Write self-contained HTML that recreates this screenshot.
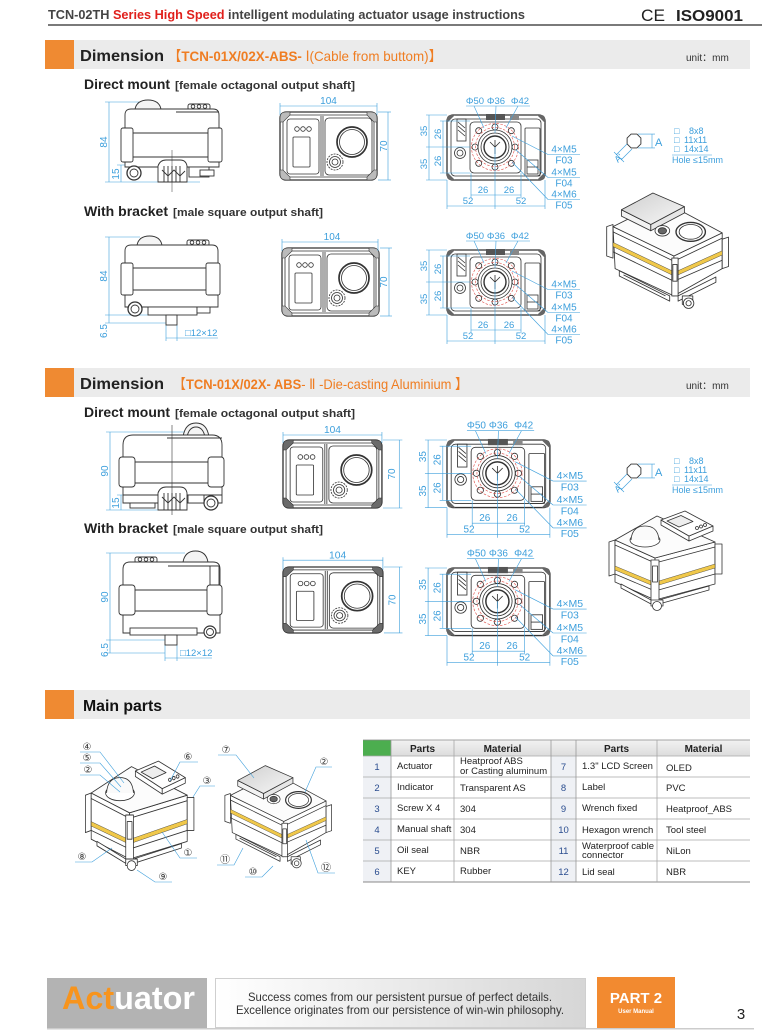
<!DOCTYPE html>
<html><head><meta charset="utf-8"><style>
html,body{margin:0;padding:0;background:#fff;}
svg{display:block;}
text{font-family:"Liberation Sans","DejaVu Sans","Noto Sans CJK SC",sans-serif;}
</style></head><body>
<svg width="777" height="1031" viewBox="0 0 777 1031" xmlns="http://www.w3.org/2000/svg">
<defs>
<linearGradient id="lcdg" x1="0" y1="0" x2="1" y2="1"><stop offset="0" stop-color="#cfcfcf"/><stop offset="1" stop-color="#f7f7f7"/></linearGradient>
<linearGradient id="fg" x1="0" y1="0" x2="1" y2="0"><stop offset="0" stop-color="#ffffff"/><stop offset="1" stop-color="#d6d6d6"/></linearGradient>
<linearGradient id="thg" x1="0" y1="0" x2="0" y2="1"><stop offset="0" stop-color="#f2f2f2"/><stop offset="1" stop-color="#dcdcdc"/></linearGradient>

<g id="tv">
 <g fill="none" stroke="#333" stroke-width="0.8">
  <rect x="0" y="0" width="97" height="68" rx="6" stroke-width="1.3" fill="#fff"/>
  <rect x="3" y="3" width="91" height="62" rx="4"/>
  <rect x="7" y="7" width="32" height="55" rx="3"/>
  <circle cx="17" cy="17" r="2.3"/><circle cx="23" cy="17" r="2.3"/><circle cx="29" cy="17" r="2.3"/>
  <rect x="13" y="25" width="17" height="30" rx="1"/>
  <line x1="41" y1="4" x2="41" y2="64"/><line x1="43" y1="4" x2="43" y2="64"/>
  <rect x="45" y="6" width="47" height="57" rx="4"/>
  <circle cx="72" cy="30" r="15" stroke-width="1.7"/><circle cx="72" cy="30" r="12.5"/>
  <circle cx="55" cy="50" r="8" stroke-dasharray="2 1"/><circle cx="55" cy="50" r="5.5"/><circle cx="55" cy="50" r="3"/>
 </g>
 <g stroke="#333" stroke-width="0.6">
  <path d="M0,10 L0,6 Q0,0 6,0 L10,0 L10,3 L3,10 Z"/>
  <path d="M87,0 L91,0 Q97,0 97,6 L97,10 L94,10 L87,3 Z"/>
  <path d="M0,58 L0,62 Q0,68 6,68 L10,68 L10,65 L3,58 Z"/>
  <path d="M97,58 L97,62 Q97,68 91,68 L87,68 L87,65 L94,58 Z"/>
 </g>
</g>

<g id="bv">
 <g fill="none" stroke="#333" stroke-width="0.8">
  <rect x="447" y="115" width="98" height="65" rx="6" stroke-width="1.3" fill="#fff"/>
  <rect x="451" y="119" width="90" height="57" rx="4"/>
  <rect x="470" y="122" width="51" height="51" rx="4"/>
  <circle cx="495" cy="147" r="17"/>
  <circle cx="495" cy="147" r="14"/>
  <circle cx="495" cy="147" r="11" stroke-width="1.4"/>
  <circle cx="460" cy="153" r="5.5"/><circle cx="460" cy="153" r="3"/>
  <rect x="457" y="119" width="9" height="22"/>
  <path d="M458,122 L465,128 M458,126 L465,132 M458,130 L465,136"/>
  <rect x="525" y="128" width="15" height="48" rx="1"/>
  <rect x="527" y="160" width="11" height="14"/>
  <line x1="527" y1="167" x2="538" y2="167"/>
  <circle cx="495" cy="127" r="3"/><circle cx="515" cy="147" r="3"/><circle cx="495" cy="167" r="3"/><circle cx="475" cy="147" r="3"/>
  <circle cx="511.3" cy="130.7" r="3"/><circle cx="511.3" cy="163.3" r="3"/><circle cx="478.7" cy="163.3" r="3"/><circle cx="478.7" cy="130.7" r="3"/>
  <path d="M495,140 L495,154 M490,142 L495,147 L500,142"/>
 </g>
 <g fill="none" stroke="#e0504a" stroke-width="0.6" stroke-dasharray="2.5 1.5">
  <circle cx="495" cy="147" r="23.5"/>
  <circle cx="495" cy="147" r="19.5"/>
 </g>
 <g fill="#666">
  <path d="M447,123 L447,119 Q447,115 451,115 L455,115 Z"/>
  <path d="M545,123 L545,119 Q545,115 541,115 L537,115 Z"/>
  <path d="M447,172 L447,176 Q447,180 451,180 L455,180 Z"/>
  <path d="M545,172 L545,176 Q545,180 541,180 L537,180 Z"/>
  <rect x="486" y="114" width="19" height="6" fill="#555"/>
  <rect x="510" y="115" width="9" height="5" fill="#888"/>
 </g>
 <g fill="none" stroke="#3d9fdc" stroke-width="0.6">
  <line x1="429" y1="115" x2="429" y2="180"/>
  <line x1="426" y1="115" x2="447" y2="115"/><line x1="426" y1="147" x2="470" y2="147"/><line x1="426" y1="180" x2="447" y2="180"/>
  <line x1="443" y1="121" x2="443" y2="173"/>
  <line x1="440" y1="121" x2="470" y2="121"/><line x1="440" y1="173" x2="470" y2="173"/>
  <line x1="471" y1="195" x2="521" y2="195"/>
  <line x1="471" y1="173" x2="471" y2="198"/><line x1="521" y1="173" x2="521" y2="198"/><line x1="495" y1="147" x2="495" y2="209"/>
  <line x1="447" y1="206" x2="545" y2="206"/>
  <line x1="447" y1="180" x2="447" y2="209"/><line x1="545" y1="180" x2="545" y2="209"/>
  <line x1="466" y1="106" x2="530" y2="106"/>
  <line x1="474" y1="106" x2="484" y2="128"/><line x1="496" y1="106" x2="495" y2="133"/><line x1="518" y1="106" x2="506" y2="128"/>
  <line x1="548" y1="154.5" x2="580" y2="154.5"/><line x1="548" y1="177.5" x2="580" y2="177.5"/><line x1="548" y1="199.5" x2="580" y2="199.5"/>
  <line x1="512" y1="136" x2="548" y2="154.5"/><line x1="516" y1="150" x2="548" y2="177.5"/><line x1="512" y1="162" x2="548" y2="199.5"/>
 </g>
</g>

<g id="oct">
 <polygon points="640.9,143.9 636.9,147.9 631.1,147.9 627.1,143.9 627.1,138.1 631.1,134.1 636.9,134.1 640.9,138.1" fill="#fff" stroke="#333" stroke-width="0.9"/>
 <g stroke="#3d9fdc" stroke-width="0.6" fill="none">
  <line x1="638" y1="134.1" x2="655" y2="134.1"/><line x1="638" y1="147.9" x2="655" y2="147.9"/>
  <line x1="652" y1="134.1" x2="652" y2="147.9"/>
  <line x1="627" y1="144" x2="616" y2="155"/><line x1="632" y1="149" x2="621" y2="160"/>
  <line x1="614" y1="152" x2="624" y2="162"/>
  <line x1="672" y1="155" x2="712" y2="155"/>
 </g>
</g>

<g id="actA" stroke="#333" stroke-width="0.8" stroke-linejoin="round">
 <polygon points="14,52 20,50 20,82 14,80" fill="#fff"/>
 <polygon points="20,52 78,80 78,118 22,92" fill="#fff"/>
 <polygon points="78,80 124,58 124,92 78,118" fill="#fff"/>
 <polygon points="124,64 130,62 130,90 124,92" fill="#fff"/>
 <polygon points="20,52 68,28 124,58 78,80" fill="#fcfcfc"/>
 <polyline points="20,57 78,85 124,63" fill="none"/>
 <polyline points="20,76 78,104 124,84" fill="none"/>
 <polygon points="20,67 76,94 76,98 20,71" fill="#f0c84a" stroke-width="0.4"/>
 <polygon points="82,94 124,75 124,79 82,98" fill="#f0c84a" stroke-width="0.4"/>
 <rect x="76" y="82" width="6" height="36" fill="#fff"/>
 <rect x="77" y="88" width="4" height="16" fill="#fff"/>
 <polygon points="26,94 74,118 74,123 26,99" fill="#fff"/>
 <polyline points="30,98 70,118" fill="none"/>
 <polygon points="82,118 118,100 118,105 82,123" fill="#fff"/>
 <rect x="86" y="118" width="10" height="8" fill="#fff"/>
 <circle cx="92" cy="125" r="5" fill="#fff"/><circle cx="92" cy="125" r="2.5" fill="none"/>
 <polygon points="28,36 56,50 56,56 28,42" fill="#f2f2f2"/>
 <polygon points="56,50 88,33 88,39 56,56" fill="#e6e6e6"/>
 <polygon points="28,36 58,20 88,33 56,50" fill="url(#lcdg)"/>
 <ellipse cx="94" cy="57" rx="14" ry="9" fill="#fff" stroke-width="1.3"/>
 <ellipse cx="94" cy="57" rx="11" ry="7" fill="#fff"/>
 <ellipse cx="67" cy="56" rx="7" ry="5" fill="#fff"/>
 <ellipse cx="67" cy="56" rx="4" ry="3" fill="#666"/>
</g>

<g id="actB" stroke="#333" stroke-width="0.8" stroke-linejoin="round">
 <polygon points="14,42 20,40 20,74 14,76" fill="#fff"/>
 <polygon points="20,40 60,58 60,100 20,82" fill="#fff"/>
 <polygon points="60,58 120,42 120,84 60,100" fill="#fff"/>
 <polygon points="120,44 127,44 127,74 120,74" fill="#fff"/>
 <polygon points="20,40 62,16 120,42 60,58" fill="#fcfcfc"/>
 <polyline points="20,45 60,63 120,47" fill="none"/>
 <polyline points="20,74 60,91 120,74" fill="none"/>
 <polygon points="20,66 56,81 56,85 20,70" fill="#f0c84a" stroke-width="0.4"/>
 <polygon points="64,81 120,64 120,68 64,85" fill="#f0c84a" stroke-width="0.4"/>
 <rect x="56" y="60" width="8" height="42" fill="#fff"/>
 <rect x="57.5" y="66" width="5" height="16" fill="#fff"/>
 <polygon points="26,84 56,100 56,104 26,88" fill="#fff"/>
 <polygon points="64,100 114,86 114,90 64,104" fill="#fff"/>
 <rect x="56" y="100" width="12" height="6" fill="#fff"/>
 <circle cx="62" cy="106" r="4.5" fill="#fff"/>
 <polygon points="66,20 94,36 94,41 66,25" fill="#fff"/>
 <polygon points="94,36 118,26 118,31 94,41" fill="#fff"/>
 <polygon points="66,20 90,11 118,26 94,36" fill="#fff"/>
 <polygon points="72,21 86,15.5 98,21.5 84,27" fill="#eee"/>
 <circle cx="102" cy="28" r="1.5" fill="none"/><circle cx="106" cy="26.5" r="1.5" fill="none"/><circle cx="110" cy="25" r="1.5" fill="none"/>
 <ellipse cx="50" cy="40" rx="15" ry="7" fill="#fff"/>
 <path d="M36,40 Q37,26 50,26 Q63,26 64,40" fill="#fafafa"/>
</g>
</defs>

<!-- HEADER -->
<text x="48" y="19" font-size="13" font-weight="bold" fill="#444" textLength="477" lengthAdjust="spacingAndGlyphs">TCN-02TH <tspan fill="#e0201c">Series High Speed</tspan>  intelligent <tspan font-size="12">modulating</tspan> actuator usage instructions</text>
<text x="641" y="21" font-size="17" fill="#222" textLength="24" lengthAdjust="spacingAndGlyphs">CE</text>
<text x="676" y="21" font-size="16" font-weight="bold" fill="#222" textLength="67" lengthAdjust="spacingAndGlyphs">ISO9001</text>
<rect x="48" y="24" width="714" height="2" fill="#7a7a7a"/>

<!-- SECTION 1 -->
<rect x="45" y="40" width="705" height="29" fill="#ebebeb"/>
<rect x="45" y="40" width="29" height="29" fill="#ef8a32"/>
<text x="80" y="61" font-size="16" font-weight="bold" fill="#222" textLength="84" lengthAdjust="spacingAndGlyphs">Dimension</text>
<text x="168" y="61" font-size="14" fill="#ef7d22" textLength="274" lengthAdjust="spacingAndGlyphs">【<tspan font-weight="bold">TCN-01X/02X-ABS-</tspan> Ⅰ(Cable from buttom)】</text>
<text x="686" y="61" font-size="10" fill="#333">unit：mm</text>

<text x="84" y="89" font-size="14" font-weight="bold" fill="#222" textLength="86" lengthAdjust="spacingAndGlyphs">Direct mount</text>
<text x="175" y="89" font-size="11" font-weight="bold" fill="#333" textLength="180" lengthAdjust="spacingAndGlyphs">[female octagonal output shaft]</text>

<!-- side view 1 -->
<g fill="none" stroke="#3d9fdc" stroke-width="0.6">
 <line x1="109" y1="102" x2="109" y2="182"/><line x1="105" y1="102" x2="140" y2="102"/><line x1="105" y1="182" x2="200" y2="182"/>
 <line x1="121" y1="165" x2="121" y2="182"/><line x1="117" y1="165" x2="160" y2="165"/>
</g>
<g fill="#3d9fdc" font-size="10" text-anchor="middle">
 <text transform="translate(107,142) rotate(-90)">84</text>
 <text transform="translate(119,174) rotate(-90)">15</text>
</g>
<g fill="#fff" stroke="#333" stroke-width="0.9">
 <path d="M135,109 Q137,100 148,100 Q159,100 161,109 Z" fill="#f4f4f4"/>
 <rect x="188" y="104" width="22" height="6" rx="2"/>
 <path d="M125,167 L125,115 Q125,109 131,109 L213,109 Q219,109 219,115 L219,167 Z"/>
 <rect x="121" y="128" width="12" height="34" rx="2"/>
 <rect x="208" y="128" width="14" height="34" rx="2"/>
 <line x1="133" y1="133" x2="208" y2="133"/><line x1="133" y1="157" x2="208" y2="157"/>
 <line x1="176" y1="112" x2="219" y2="112"/>
 <circle cx="193" cy="106.5" r="1.8"/><circle cx="199" cy="106.5" r="1.8"/><circle cx="205" cy="106.5" r="1.8"/>
 <path d="M158,182 L158,166 Q160,160 166,160 L180,160 Q186,160 187,166 L187,182 Z"/>
 <path d="M164,166 L164,182 M168,166 L168,182 M172,166 L172,182 M176,166 L176,182 M180,166 L180,182" fill="none"/>
 <path d="M162,170 L168,176 L174,170 L180,176 L185,171" fill="none"/>
 <rect x="189" y="167" width="20" height="10"/>
 <rect x="200" y="170" width="14" height="6"/>
 <circle cx="134" cy="173" r="7" stroke-width="1.3"/><circle cx="134" cy="173" r="4"/>
 <line x1="172" y1="150" x2="172" y2="192" stroke-width="0.5"/>
</g>

<!-- top view 1 -->
<g transform="translate(280,112)">
 <use href="#tv" fill="#bbb"/>
 <g fill="none" stroke="#3d9fdc" stroke-width="0.6">
  <line x1="0" y1="-6" x2="97" y2="-6"/><line x1="0" y1="-9" x2="0" y2="3"/><line x1="97" y1="-9" x2="97" y2="3"/>
  <line x1="108" y1="0" x2="108" y2="68"/><line x1="98" y1="0" x2="111" y2="0"/><line x1="98" y1="68" x2="111" y2="68"/>
 </g>
 <text x="48.5" y="-8" font-size="10" fill="#3d9fdc" text-anchor="middle">104</text>
 <text transform="translate(107,34) rotate(-90)" font-size="10" fill="#3d9fdc" text-anchor="middle">70</text>
</g>

<!-- bottom view 1 -->
<g>
 <use href="#bv"/>
 <g fill="#3d9fdc" font-size="9.5" text-anchor="middle">
  <text x="475" y="104">Φ50</text><text x="496" y="104">Φ36</text><text x="520" y="104">Φ42</text>
  <text transform="translate(427,131) rotate(-90)">35</text><text transform="translate(427,164) rotate(-90)">35</text>
  <text transform="translate(441,134) rotate(-90)">26</text><text transform="translate(441,161) rotate(-90)">26</text>
  <text x="483" y="193">26</text><text x="509" y="193">26</text>
  <text x="468" y="204">52</text><text x="521" y="204">52</text>
  <text x="564" y="152.5" font-size="10">4×M5</text><text x="564" y="163.5" font-size="10">F03</text>
  <text x="564" y="175.5" font-size="10">4×M5</text><text x="564" y="186.5" font-size="10">F04</text>
  <text x="564" y="197.5" font-size="10">4×M6</text><text x="564" y="208.5" font-size="10">F05</text>
 </g>
</g>

<!-- octagon icon 1 -->
<g>
 <use href="#oct"/>
 <g fill="#3d9fdc">
  <text x="655" y="146" font-size="11">A</text>
  <text transform="translate(618,163) rotate(-45)" font-size="9">A'</text>
  <text x="674" y="134" font-size="9">□<tspan x="689">8x8</tspan></text>
  <text x="674" y="143" font-size="9">□<tspan x="684">11x11</tspan></text>
  <text x="674" y="152" font-size="9">□<tspan x="684">14x14</tspan></text>
  <text x="672" y="163" font-size="9">Hole ≤15mm</text>
 </g>
</g>

<use href="#actA" transform="translate(592,172) scale(1.05)"/>

<text x="84" y="216" font-size="14" font-weight="bold" fill="#222" textLength="84" lengthAdjust="spacingAndGlyphs">With bracket</text>
<text x="173" y="216" font-size="11" font-weight="bold" fill="#333" textLength="150" lengthAdjust="spacingAndGlyphs">[male square output shaft]</text>

<!-- side view 2 -->
<g fill="none" stroke="#3d9fdc" stroke-width="0.6">
 <line x1="109" y1="237" x2="109" y2="323"/><line x1="105" y1="237" x2="140" y2="237"/><line x1="105" y1="315" x2="166" y2="315"/>
 <line x1="105" y1="323" x2="166" y2="323"/>
 <line x1="166" y1="325" x2="166" y2="341"/><line x1="177" y1="325" x2="177" y2="341"/><line x1="166" y1="338" x2="218" y2="338"/>
</g>
<g fill="#3d9fdc" font-size="10" text-anchor="middle">
 <text transform="translate(107,276) rotate(-90)">84</text>
 <text transform="translate(107,331) rotate(-90)">6.5</text>
</g>
<text x="185" y="336" font-size="9.5" fill="#3d9fdc">□12×12</text>
<g fill="#fff" stroke="#333" stroke-width="0.9">
 <path d="M137,245 Q139,236 149.5,236 Q160,236 162,245 Z" fill="#f4f4f4"/>
 <rect x="187" y="240" width="22" height="6" rx="2"/>
 <path d="M125,307 L125,251 Q125,245 131,245 L212,245 Q218,245 218,251 L218,307 Z"/>
 <rect x="121" y="263" width="12" height="32" rx="2"/>
 <rect x="206" y="263" width="14" height="32" rx="2"/>
 <line x1="133" y1="268" x2="206" y2="268"/><line x1="133" y1="290" x2="206" y2="290"/>
 <circle cx="192" cy="242.5" r="1.8"/><circle cx="198" cy="242.5" r="1.8"/><circle cx="204" cy="242.5" r="1.8"/>
 <rect x="148" y="307" width="49" height="8"/>
 <rect x="166" y="315" width="11" height="10"/>
 <rect x="197" y="307" width="13" height="6"/>
 <circle cx="135" cy="309" r="7" stroke-width="1.3"/><circle cx="135" cy="309" r="4"/>
</g>

<!-- top view 2 -->
<g transform="translate(282,248)">
 <use href="#tv" fill="#bbb"/>
 <g fill="none" stroke="#3d9fdc" stroke-width="0.6">
  <line x1="0" y1="-6" x2="96" y2="-6"/><line x1="0" y1="-9" x2="0" y2="3"/><line x1="96" y1="-9" x2="96" y2="3"/>
  <line x1="107" y1="0" x2="107" y2="68"/><line x1="98" y1="0" x2="110" y2="0"/><line x1="98" y1="68" x2="110" y2="68"/>
 </g>
 <text x="50" y="-8" font-size="10" fill="#3d9fdc" text-anchor="middle">104</text>
 <text transform="translate(105,34) rotate(-90)" font-size="10" fill="#3d9fdc" text-anchor="middle">70</text>
</g>

<!-- bottom view 2 -->
<g transform="translate(0,135)">
 <use href="#bv"/>
 <g fill="#3d9fdc" font-size="9.5" text-anchor="middle">
  <text x="475" y="104">Φ50</text><text x="496" y="104">Φ36</text><text x="520" y="104">Φ42</text>
  <text transform="translate(427,131) rotate(-90)">35</text><text transform="translate(427,164) rotate(-90)">35</text>
  <text transform="translate(441,134) rotate(-90)">26</text><text transform="translate(441,161) rotate(-90)">26</text>
  <text x="483" y="193">26</text><text x="509" y="193">26</text>
  <text x="468" y="204">52</text><text x="521" y="204">52</text>
  <text x="564" y="152.5" font-size="10">4×M5</text><text x="564" y="163.5" font-size="10">F03</text>
  <text x="564" y="175.5" font-size="10">4×M5</text><text x="564" y="186.5" font-size="10">F04</text>
  <text x="564" y="197.5" font-size="10">4×M6</text><text x="564" y="208.5" font-size="10">F05</text>
 </g>
</g>

<!-- SECTION 2 -->
<rect x="45" y="368" width="705" height="29" fill="#ebebeb"/>
<rect x="45" y="368" width="29" height="29" fill="#ef8a32"/>
<text x="80" y="389" font-size="16" font-weight="bold" fill="#222" textLength="84" lengthAdjust="spacingAndGlyphs">Dimension</text>
<text x="173" y="389" font-size="14" fill="#ef7d22" textLength="295" lengthAdjust="spacingAndGlyphs">【<tspan font-weight="bold">TCN-01X/02X- ABS</tspan>- Ⅱ -Die-casting Aluminium 】</text>
<text x="686" y="389" font-size="10" fill="#333">unit：mm</text>

<text x="84" y="417" font-size="14" font-weight="bold" fill="#222" textLength="86" lengthAdjust="spacingAndGlyphs">Direct mount</text>
<text x="175" y="417" font-size="11" font-weight="bold" fill="#333" textLength="180" lengthAdjust="spacingAndGlyphs">[female octagonal output shaft]</text>

<!-- side view 3 -->
<g fill="none" stroke="#3d9fdc" stroke-width="0.6">
 <line x1="110" y1="432" x2="110" y2="510"/><line x1="106" y1="432" x2="185" y2="432"/><line x1="106" y1="510" x2="160" y2="510"/>
 <line x1="121" y1="495" x2="121" y2="510"/><line x1="117" y1="495" x2="160" y2="495"/>
</g>
<g fill="#3d9fdc" font-size="10" text-anchor="middle">
 <text transform="translate(108,471) rotate(-90)">90</text>
 <text transform="translate(119,503) rotate(-90)">15</text>
</g>
<g fill="#fff" stroke="#333" stroke-width="0.9">
 <path d="M183,437 Q185,423 196,423 Q207,423 209,437 Z" fill="#f4f4f4"/>
 <path d="M187,437 Q189,427 196,427 Q203,427 205,437" fill="none"/>
 <path d="M123,503 L123,445 Q123,435 133,435 L212,435 Q222,435 222,445 L222,503 Z"/>
 <line x1="167" y1="438" x2="222" y2="438"/>
 <rect x="119" y="457" width="16" height="30" rx="3"/>
 <rect x="208" y="457" width="16" height="30" rx="3"/>
 <line x1="135" y1="462" x2="208" y2="462"/><line x1="135" y1="483" x2="208" y2="483"/>
 <line x1="123" y1="495" x2="222" y2="495"/>
 <path d="M158,510 L158,493 Q160,487 166,487 L180,487 Q186,487 187,493 L187,510 Z"/>
 <path d="M164,493 L164,510 M168,493 L168,510 M172,493 L172,510 M176,493 L176,510 M180,493 L180,510" fill="none"/>
 <path d="M162,497 L168,503 L174,497 L180,503 L185,498" fill="none"/>
 <rect x="130" y="503" width="25" height="5"/>
 <rect x="188" y="495" width="16" height="8"/>
 <circle cx="211" cy="503" r="7" stroke-width="1.2"/><circle cx="211" cy="503" r="4"/>
 <line x1="172" y1="425" x2="172" y2="515" stroke-width="0.6"/>
</g>

<!-- top view 3 -->
<g transform="translate(283,440) scale(1.02,1)">
 <use href="#tv" fill="#6a6a6a"/>
 <g fill="none" stroke="#3d9fdc" stroke-width="0.6">
  <line x1="0" y1="-5" x2="97" y2="-5"/><line x1="0" y1="-8" x2="0" y2="3"/><line x1="97" y1="-8" x2="97" y2="3"/>
  <line x1="114" y1="0" x2="114" y2="68"/><line x1="98" y1="0" x2="117" y2="0"/><line x1="98" y1="68" x2="117" y2="68"/>
 </g>
 <text x="48.5" y="-7" font-size="10" fill="#3d9fdc" text-anchor="middle">104</text>
 <text transform="translate(110,34) rotate(-90)" font-size="10" fill="#3d9fdc" text-anchor="middle">70</text>
</g>

<!-- bottom view 3 -->
<g transform="translate(447,440) scale(1.05,1.04) translate(-447,-115)">
 <use href="#bv"/>
 <g fill="#3d9fdc" font-size="9.5" text-anchor="middle">
  <text x="475" y="104">Φ50</text><text x="496" y="104">Φ36</text><text x="520" y="104">Φ42</text>
  <text transform="translate(427,131) rotate(-90)">35</text><text transform="translate(427,164) rotate(-90)">35</text>
  <text transform="translate(441,134) rotate(-90)">26</text><text transform="translate(441,161) rotate(-90)">26</text>
  <text x="483" y="193">26</text><text x="509" y="193">26</text>
  <text x="468" y="204">52</text><text x="521" y="204">52</text>
  <text x="564" y="152.5" font-size="10">4×M5</text><text x="564" y="163.5" font-size="10">F03</text>
  <text x="564" y="175.5" font-size="10">4×M5</text><text x="564" y="186.5" font-size="10">F04</text>
  <text x="564" y="197.5" font-size="10">4×M6</text><text x="564" y="208.5" font-size="10">F05</text>
 </g>
</g>

<!-- octagon icon 2 -->
<g transform="translate(0,330)">
 <use href="#oct"/>
 <g fill="#3d9fdc">
  <text x="655" y="146" font-size="11">A</text>
  <text transform="translate(618,163) rotate(-45)" font-size="9">A'</text>
  <text x="674" y="134" font-size="9">□<tspan x="689">8x8</tspan></text>
  <text x="674" y="143" font-size="9">□<tspan x="684">11x11</tspan></text>
  <text x="674" y="152" font-size="9">□<tspan x="684">14x14</tspan></text>
  <text x="672" y="163" font-size="9">Hole ≤15mm</text>
 </g>
</g>

<use href="#actB" transform="translate(595,500)"/>

<text x="84" y="533" font-size="14" font-weight="bold" fill="#222" textLength="84" lengthAdjust="spacingAndGlyphs">With bracket</text>
<text x="173" y="533" font-size="11" font-weight="bold" fill="#333" textLength="150" lengthAdjust="spacingAndGlyphs">[male square output shaft]</text>

<!-- side view 4 -->
<g fill="none" stroke="#3d9fdc" stroke-width="0.6">
 <line x1="110" y1="553" x2="110" y2="653"/><line x1="106" y1="553" x2="185" y2="553"/><line x1="106" y1="640" x2="165" y2="640"/>
 <line x1="106" y1="653" x2="165" y2="653"/>
 <line x1="165" y1="645" x2="165" y2="661"/><line x1="177" y1="645" x2="177" y2="661"/><line x1="165" y1="658" x2="212" y2="658"/>
</g>
<g fill="#3d9fdc" font-size="10" text-anchor="middle">
 <text transform="translate(108,597) rotate(-90)">90</text>
 <text transform="translate(108,650) rotate(-90)">6.5</text>
</g>
<text x="180" y="656" font-size="9.5" fill="#3d9fdc">□12×12</text>
<g fill="#fff" stroke="#333" stroke-width="0.9">
 <path d="M183,562 Q185,551 195.5,551 Q206,551 208,562 Z" fill="#f4f4f4"/>
 <rect x="135" y="557" width="22" height="6" rx="2"/>
 <path d="M123,633 L123,569 Q123,562 130,562 L213,562 Q220,562 220,569 L220,633 Z"/>
 <line x1="168" y1="566" x2="220" y2="566"/>
 <circle cx="140" cy="559.5" r="1.8"/><circle cx="146" cy="559.5" r="1.8"/><circle cx="152" cy="559.5" r="1.8"/>
 <rect x="210" y="566" width="9" height="20"/>
 <rect x="119" y="585" width="16" height="30" rx="3"/>
 <rect x="207" y="585" width="15" height="30" rx="3"/>
 <line x1="135" y1="590" x2="207" y2="590"/><line x1="135" y1="611" x2="207" y2="611"/>
 <rect x="130" y="628" width="67" height="7"/>
 <rect x="165" y="635" width="12" height="10"/>
 <circle cx="210" cy="632" r="6" stroke-width="1.2"/><circle cx="210" cy="632" r="3.5"/>
</g>

<!-- top view 4 -->
<g transform="translate(283,567) scale(1.03,0.97)">
 <use href="#tv" fill="#6a6a6a"/>
 <g fill="none" stroke="#3d9fdc" stroke-width="0.6">
  <line x1="0" y1="-7" x2="97" y2="-7"/><line x1="0" y1="-10" x2="0" y2="3"/><line x1="97" y1="-10" x2="97" y2="3"/>
  <line x1="113" y1="0" x2="113" y2="68"/><line x1="98" y1="0" x2="116" y2="0"/><line x1="98" y1="68" x2="116" y2="68"/>
 </g>
 <text x="53" y="-9" font-size="10" fill="#3d9fdc" text-anchor="middle">104</text>
 <text transform="translate(109,34) rotate(-90)" font-size="10" fill="#3d9fdc" text-anchor="middle">70</text>
</g>

<!-- bottom view 4 -->
<g transform="translate(447,568) scale(1.05,1.04) translate(-447,-115)">
 <use href="#bv"/>
 <g fill="#3d9fdc" font-size="9.5" text-anchor="middle">
  <text x="475" y="104">Φ50</text><text x="496" y="104">Φ36</text><text x="520" y="104">Φ42</text>
  <text transform="translate(427,131) rotate(-90)">35</text><text transform="translate(427,164) rotate(-90)">35</text>
  <text transform="translate(441,134) rotate(-90)">26</text><text transform="translate(441,161) rotate(-90)">26</text>
  <text x="483" y="193">26</text><text x="509" y="193">26</text>
  <text x="468" y="204">52</text><text x="521" y="204">52</text>
  <text x="564" y="152.5" font-size="10">4×M5</text><text x="564" y="163.5" font-size="10">F03</text>
  <text x="564" y="175.5" font-size="10">4×M5</text><text x="564" y="186.5" font-size="10">F04</text>
  <text x="564" y="197.5" font-size="10">4×M6</text><text x="564" y="208.5" font-size="10">F05</text>
 </g>
</g>

<!-- MAIN PARTS -->
<rect x="45" y="690" width="705" height="29" fill="#ebebeb"/>
<rect x="45" y="690" width="29" height="29" fill="#ef8a32"/>
<text x="83" y="711" font-size="16" font-weight="bold" fill="#111" textLength="79" lengthAdjust="spacingAndGlyphs">Main parts</text>

<use href="#actB" transform="translate(72,749) scale(0.96,1.1)"/>
<use href="#actA" transform="translate(212,747) scale(0.92,0.93)"/>

<g fill="none" stroke="#3d9fdc" stroke-width="0.6">
 <polyline points="80,752 100,752 124,783"/>
 <polyline points="80,763 100,763 121,787"/>
 <polyline points="80,775 100,775 120,792"/>
 <polyline points="198,762 180,762 170,781"/>
 <polyline points="215,786 200,786 193,797"/>
 <polyline points="197,858 180,858 162,832"/>
 <polyline points="75,862 92,862 112,848"/>
 <polyline points="172,882 155,882 137,870"/>
 <polyline points="218,755 236,755 254,778"/>
 <polyline points="332,767 316,767 305,792"/>
 <polyline points="217,865 234,865 243,848"/>
 <polyline points="245,877 262,877 273,866"/>
 <polyline points="335,873 318,873 306,840"/>
</g>
<g font-size="10" fill="#333" text-anchor="middle">
 <text x="87" y="750">④</text>
 <text x="87" y="761">⑤</text>
 <text x="88" y="773">②</text>
 <text x="188" y="760">⑥</text>
 <text x="207" y="784">③</text>
 <text x="188" y="856">①</text>
 <text x="82" y="860">⑧</text>
 <text x="163" y="880">⑨</text>
 <text x="226" y="753">⑦</text>
 <text x="324" y="765">②</text>
 <text x="225" y="863">⑪</text>
 <text x="253" y="875">⑩</text>
 <text x="326" y="871">⑫</text>
</g>

<!-- TABLE -->
<g>
 <rect x="363" y="740" width="387" height="16" fill="url(#thg)"/>
 <rect x="363" y="740" width="28" height="16" fill="#4cae4f"/>
 <rect x="363" y="756" width="28" height="126" fill="#eff1f5"/>
 <rect x="551" y="756" width="25" height="126" fill="#eff1f5"/>
 <g stroke="#a8a8a8" stroke-width="0.8">
  <line x1="363" y1="740" x2="750" y2="740" stroke="#888"/>
  <line x1="363" y1="756" x2="750" y2="756"/>
  <line x1="363" y1="777" x2="750" y2="777"/>
  <line x1="363" y1="798" x2="750" y2="798"/>
  <line x1="363" y1="819" x2="750" y2="819"/>
  <line x1="363" y1="840" x2="750" y2="840"/>
  <line x1="363" y1="861" x2="750" y2="861"/>
  <line x1="363" y1="882" x2="750" y2="882" stroke="#888" stroke-width="1"/>
  <line x1="391" y1="740" x2="391" y2="882" stroke="#999"/>
  <line x1="454" y1="740" x2="454" y2="882"/>
  <line x1="551" y1="740" x2="551" y2="882" stroke="#999"/>
  <line x1="576" y1="740" x2="576" y2="882" stroke="#999"/>
  <line x1="657" y1="740" x2="657" y2="882"/>
 </g>
 <g font-size="10" font-weight="bold" fill="#222" text-anchor="middle">
  <text x="422.5" y="752">Parts</text><text x="502.5" y="752">Material</text>
  <text x="616.5" y="752">Parts</text><text x="703.5" y="752">Material</text>
 </g>
 <g font-size="9.5" fill="#2a4d8f" text-anchor="middle">
  <text x="377" y="770">1</text><text x="377" y="791">2</text><text x="377" y="812">3</text>
  <text x="377" y="833">4</text><text x="377" y="854">5</text><text x="377" y="875">6</text>
  <text x="563.5" y="770">7</text><text x="563.5" y="791">8</text><text x="563.5" y="812">9</text>
  <text x="563.5" y="833">10</text><text x="563.5" y="854">11</text><text x="563.5" y="875">12</text>
 </g>
 <g font-size="9.5" fill="#222">
  <text x="397" y="769">Actuator</text>
  <text x="460" y="764">Heatproof ABS</text>
  <text x="460" y="774">or  Casting aluminum</text>
  <text x="397" y="790">Indicator</text><text x="460" y="791">Transparent AS</text>
  <text x="397" y="811">Screw X 4</text><text x="460" y="812">304</text>
  <text x="397" y="832">Manual shaft</text><text x="460" y="833">304</text>
  <text x="397" y="853">Oil seal</text><text x="460" y="854">NBR</text>
  <text x="397" y="874">KEY</text><text x="460" y="874">Rubber</text>
  <text x="582" y="769">1.3" LCD Screen</text><text x="666" y="771">OLED</text>
  <text x="582" y="790">Label</text><text x="666" y="791">PVC</text>
  <text x="582" y="811">Wrench fixed</text><text x="666" y="812">Heatproof_ABS</text>
  <text x="582" y="833">Hexagon wrench</text><text x="666" y="833">Tool steel</text>
  <text x="582" y="849">Waterproof cable</text><text x="582" y="858">connector</text><text x="666" y="854">NiLon</text>
  <text x="582" y="875">Lid seal</text><text x="666" y="875">NBR</text>
 </g>
</g>

<!-- FOOTER -->
<rect x="47" y="978" width="160" height="50" fill="#b3b3b3"/>
<text x="62" y="1009" font-size="32" font-weight="bold" textLength="133" lengthAdjust="spacingAndGlyphs"><tspan fill="#f7941d">Act</tspan><tspan fill="#ffffff">uator</tspan></text>
<rect x="215.5" y="978.5" width="370" height="49" fill="url(#fg)" stroke="#cfcfcf"/>
<text x="400" y="1001" font-size="12" fill="#333" text-anchor="middle" textLength="304" lengthAdjust="spacingAndGlyphs">Success comes from our persistent pursue of perfect details.</text>
<text x="400" y="1014" font-size="12" fill="#333" text-anchor="middle" textLength="328" lengthAdjust="spacingAndGlyphs">Excellence originates from our persistence of win-win philosophy.</text>
<rect x="597" y="977" width="78" height="51" fill="#f28a30"/>
<text x="636" y="1003" font-size="15" font-weight="bold" fill="#fff" text-anchor="middle">PART 2</text>
<text x="636" y="1013" font-size="6" font-weight="bold" fill="#fff" text-anchor="middle">User Manual</text>
<text x="741" y="1019" font-size="15" fill="#222" text-anchor="middle">3</text>
<rect x="47" y="1028" width="707" height="1.5" fill="#cccccc"/>
</svg>
</body></html>
